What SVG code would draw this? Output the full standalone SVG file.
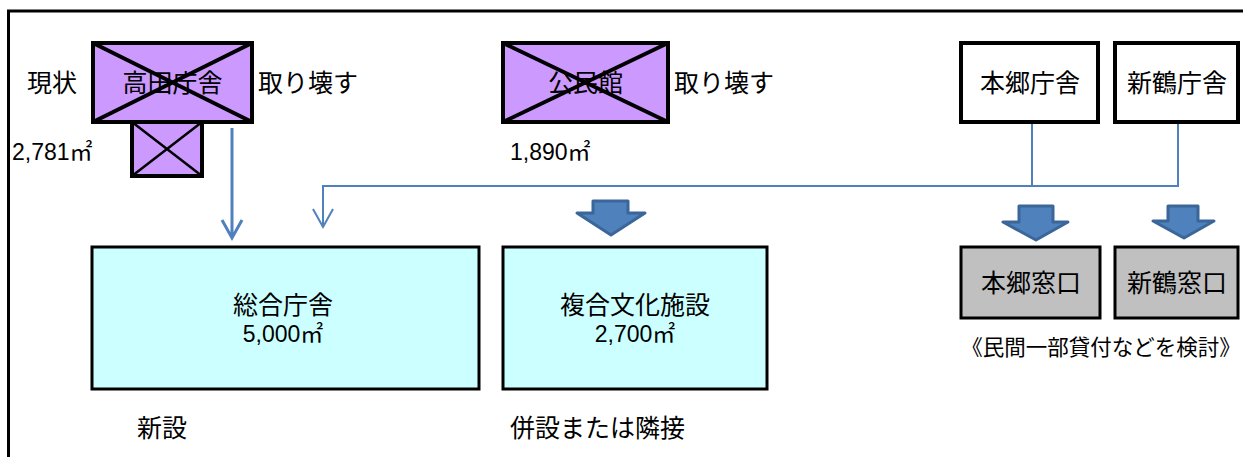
<svg xmlns="http://www.w3.org/2000/svg" width="1243" height="457" viewBox="0 0 1243 457">
<style>
  text { font-family: "Liberation Sans", "Noto Sans CJK JP", sans-serif; fill: #000; }
  .lbl { font-size: 25px; }
  .num { font-size: 23px; }
  .demo { fill: #CC99FF; stroke: #000; stroke-width: 4; }
  .x { stroke: #000; stroke-width: 4; fill: none; }
  .xs { stroke: #000; stroke-width: 2.5; fill: none; }
  .old { fill: #FFFFFF; stroke: #000; stroke-width: 4; }
  .new { fill: #CCFFFF; stroke: #000; stroke-width: 3; }
  .win { fill: #C0C0C0; stroke: #000; stroke-width: 3; }
  .conn { stroke: #4F81BD; stroke-width: 2; fill: none; }
  .conn2 { stroke: #4F81BD; stroke-width: 3; fill: none; }
  .blk { fill: #4F81BD; stroke: #3A6699; stroke-width: 3; stroke-linejoin: round; }
</style>

<path d="M8.5,457 V11 H1243" fill="none" stroke="#000" stroke-width="3"/>

<g id="takada">
  <rect class="demo" x="93" y="43" width="159" height="79"/>
  <rect class="demo" x="132" y="122" width="70" height="54"/>
  <text class="lbl" x="172.5" y="92" text-anchor="middle">高田庁舎</text>
  <path class="x" d="M93,43 L252,122 M252,43 L93,122"/>
  <path class="xs" d="M132,122 L202,176 M202,122 L132,176"/>
</g>
<text class="lbl" x="27" y="92">現状</text>
<text class="lbl" x="258" y="92">取り壊す</text>
<text class="num" x="12" y="160">2,781㎡</text>

<g id="kominkan">
  <rect class="demo" x="503" y="43" width="165" height="79"/>
  <text class="lbl" x="585.5" y="92" text-anchor="middle">公民館</text>
  <path class="x" d="M503,43 L668,122 M668,43 L503,122"/>
</g>
<text class="lbl" x="674" y="92">取り壊す</text>
<text class="num" x="510" y="160">1,890㎡</text>

<g id="hongo">
  <rect class="old" x="961" y="43" width="137" height="79"/>
  <text class="lbl" x="1030" y="92" text-anchor="middle">本郷庁舎</text>
</g>
<g id="shintsuru">
  <rect class="old" x="1115" y="43" width="123" height="79"/>
  <text class="lbl" x="1177" y="92" text-anchor="middle">新鶴庁舎</text>
</g>

<g id="connectors">
  <path class="conn2" d="M232,128 V238 M222,220 L232,238 L242,220"/>
  <path class="conn" d="M1032,124 V186 M1178,124 V186 M1179,186 H323 V227 M313,209 L323,227 L333,209"/>
  <path class="blk" d="M593,201 H628 V213 H645 L611,235 L577,213 H593 Z"/>
  <path class="blk" d="M1019,206 H1053 V222 H1068 L1036,240 L1003,222 H1019 Z"/>
  <path class="blk" d="M1168,206 H1198 V221 H1214 L1184,238 L1153,221 H1168 Z"/>
</g>

<g id="sogo">
  <rect class="new" x="92" y="247" width="387" height="142"/>
  <text class="lbl" x="283" y="314" text-anchor="middle">総合庁舎</text>
  <text class="num" x="283" y="342" text-anchor="middle">5,000㎡</text>
</g>
<g id="fukugo">
  <rect class="new" x="503" y="247" width="264" height="142"/>
  <text class="lbl" x="635" y="314" text-anchor="middle">複合文化施設</text>
  <text class="num" x="635" y="342" text-anchor="middle">2,700㎡</text>
</g>
<text class="lbl" x="137" y="437">新設</text>
<text class="lbl" x="510" y="437">併設または隣接</text>

<g id="hongo-madoguchi">
  <rect class="win" x="961" y="247" width="139" height="71"/>
  <text class="lbl" x="1031" y="292" text-anchor="middle">本郷窓口</text>
</g>
<g id="shintsuru-madoguchi">
  <rect class="win" x="1115" y="247" width="123" height="71"/>
  <text class="lbl" x="1177" y="292" text-anchor="middle">新鶴窓口</text>
</g>
<text x="1101" y="355" font-size="21.5" text-anchor="middle">《民間一部貸付などを検討》</text>
</svg>
